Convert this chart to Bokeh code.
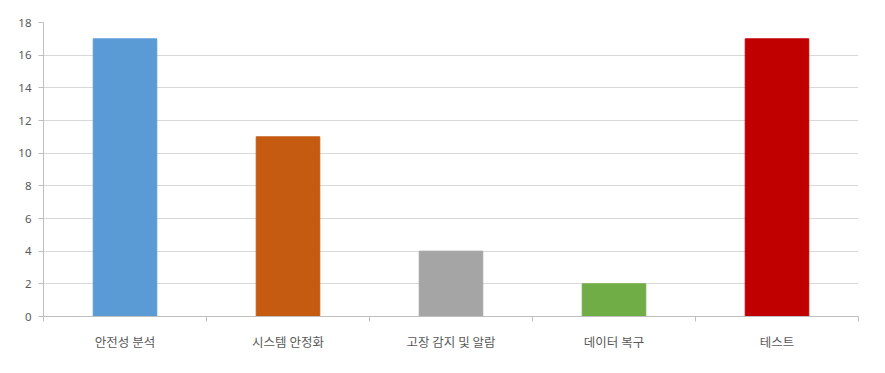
from bokeh.plotting import figure
from bokeh.models import FixedTicker, Range1d, ColumnDataSource
from bokeh.embed import file_html
from bokeh.resources import INLINE

categories = ["안전성 분석", "시스템 안정화", "고장 감지 및 알람", "데이터 복구", "테스트"]
counts = [17, 11, 4, 2, 17]
colors = ["#5B9BD5", "#C55A11", "#A5A5A5", "#70AD47", "#C00000"]
y_ticks = [0, 2, 4, 6, 8, 10, 12, 14, 16, 18]

positions = [i + 0.5 for i in range(len(categories))]
source = ColumnDataSource(dict(x=positions, top=counts, color=colors))

p = figure(width=885, height=373, output_backend="svg", toolbar_location=None,
           x_range=Range1d(0, len(categories)), y_range=Range1d(0, 18),
           min_border_left=43, min_border_right=27, min_border_top=22, min_border_bottom=57)
p.outline_line_color = None
p.background_fill_color = "white"

p.vbar(x="x", top="top", width=0.39, color="color", source=source)

# x axis: labels at category centres, tick marks on the boundaries
p.xaxis.ticker = FixedTicker(ticks=positions, minor_ticks=list(range(len(categories) + 1)))
p.xaxis.major_label_overrides = {pos: cat for pos, cat in zip(positions, categories)}
p.xaxis.major_tick_line_color = None
p.xaxis.minor_tick_in = 0
p.xaxis.minor_tick_out = 5
p.xaxis.minor_tick_line_color = "#BFBFBF"
p.xaxis.axis_line_color = "#BFBFBF"
p.xaxis.major_label_standoff = 9
p.xaxis.major_label_text_font = "Noto Sans CJK KR"
p.xaxis.major_label_text_font_size = "12.5px"
p.xaxis.major_label_text_color = "#595959"
p.xgrid.grid_line_color = None

# y axis
p.yaxis.ticker = FixedTicker(ticks=y_ticks)
p.yaxis.minor_tick_line_color = None
p.yaxis.major_tick_in = 0
p.yaxis.major_tick_out = 5
p.yaxis.major_tick_line_color = "#BFBFBF"
p.yaxis.axis_line_color = "#BFBFBF"
p.yaxis.major_label_standoff = 7
p.yaxis.major_label_text_font = "Noto Sans"
p.yaxis.major_label_text_font_size = "11.5px"
p.yaxis.major_label_text_color = "#595959"
p.ygrid.grid_line_color = "#D9D9D9"
p.ygrid.ticker = FixedTicker(ticks=y_ticks)

open("out.html", "w").write(file_html(p, INLINE))
